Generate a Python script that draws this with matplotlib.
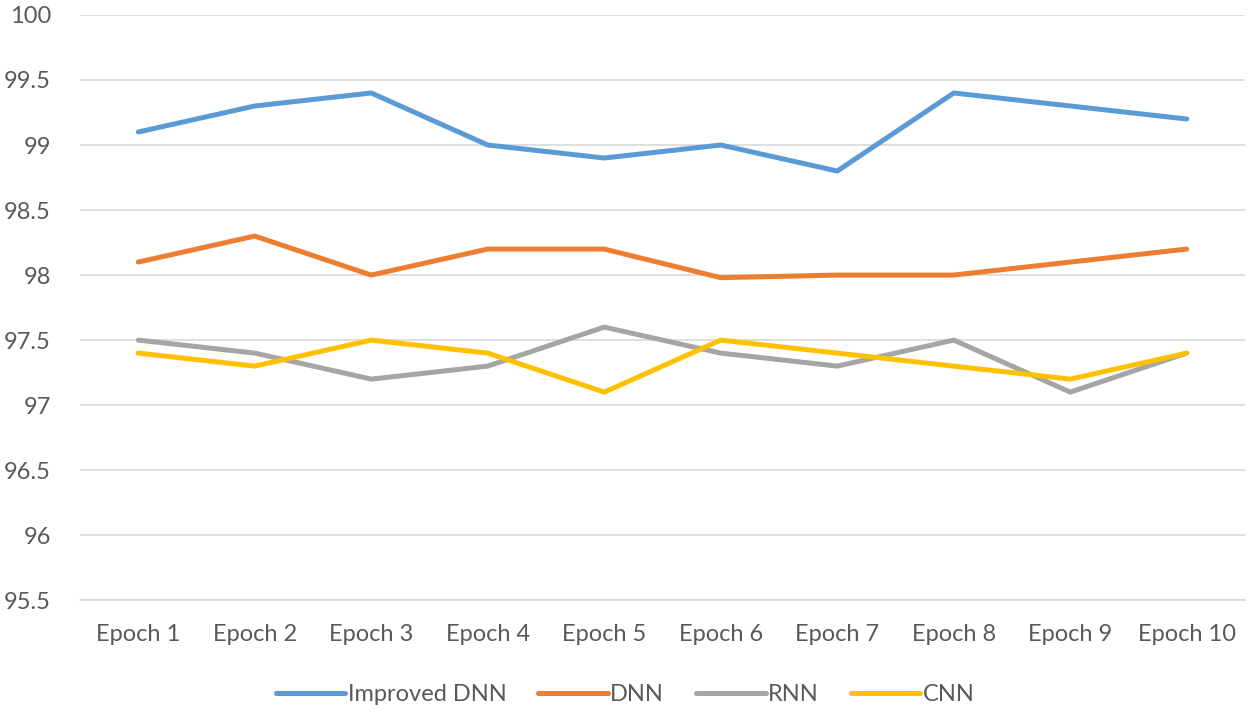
import matplotlib.pyplot as plt

# Datos
epocas = ['Epoch 1', 'Epoch 2', 'Epoch 3', 'Epoch 4', 'Epoch 5',
          'Epoch 6', 'Epoch 7', 'Epoch 8', 'Epoch 9', 'Epoch 10']
improved_dnn = [99.1, 99.3, 99.4, 99.0, 98.9, 99.0, 98.8, 99.4, 99.3, 99.2]
dnn = [98.1, 98.3, 98.0, 98.2, 98.2, 97.98, 98.0, 98.0, 98.1, 98.2]
rnn = [97.5, 97.4, 97.2, 97.3, 97.6, 97.4, 97.3, 97.5, 97.1, 97.4]
cnn = [97.4, 97.3, 97.5, 97.4, 97.1, 97.5, 97.4, 97.3, 97.2, 97.4]
y_ticks = [95.5, 96, 96.5, 97, 97.5, 98, 98.5, 99, 99.5, 100]

plt.rcParams['font.family'] = ['Lato', 'DejaVu Sans']

fig = plt.figure(figsize=(12.5, 7.12), dpi=100)
ax = fig.add_axes([0.064, 0.157, 0.932, 0.822])

x = list(range(len(epocas)))
series = [
    (improved_dnn, 'Improved DNN', '#5B9BD5'),
    (dnn, 'DNN', '#ED7D31'),
    (rnn, 'RNN', '#A5A5A5'),
    (cnn, 'CNN', '#FFC000'),
]
for valores, nombre, color in series:
    ax.plot(x, valores, color=color, linewidth=3.6, label=nombre,
            solid_joinstyle='round', solid_capstyle='round')

ax.set_xlim(-0.5, len(epocas) - 0.5)
ax.set_ylim(95.5, 100)
ax.set_yticks(y_ticks)
ax.set_yticklabels([f'{v:g}' for v in y_ticks])
ax.set_xticks(x)
ax.set_xticklabels(epocas)
ax.grid(axis='y', color='#D9D9D9', linewidth=1.2)
ax.set_axisbelow(True)
for lado in ['top', 'right', 'left']:
    ax.spines[lado].set_visible(False)
ax.spines['bottom'].set_color('#D9D9D9')
ax.spines['bottom'].set_linewidth(1.2)
ax.tick_params(length=0, labelsize=17, colors='#595959')
ax.tick_params(axis='x', pad=17)
ax.tick_params(axis='y', pad=21)

fig.legend(loc='lower center', bbox_to_anchor=(0.5, -0.02), ncol=4,
           frameon=False, fontsize=17, handlelength=2.95, handletextpad=0.1,
           columnspacing=1.35, labelcolor='#595959')

fig.savefig('out.png', dpi=100)
